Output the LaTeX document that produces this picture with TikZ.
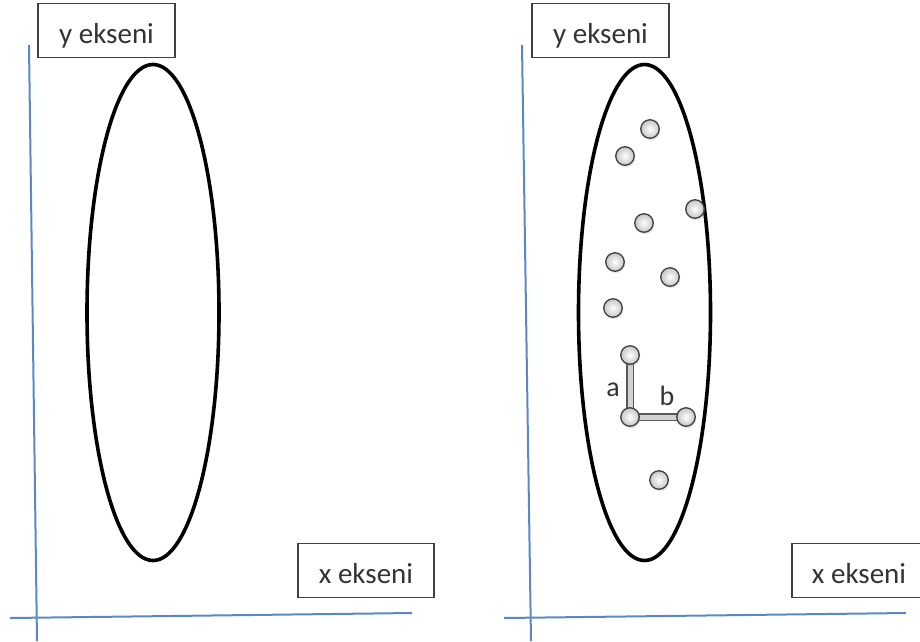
\documentclass[tikz,border=0pt]{standalone}
\usepackage{fontspec}
\setmainfont{Carlito}
\usetikzlibrary{shadows}
\begin{document}
\begin{tikzpicture}[x = 1pt, y = -1pt,
		axis/.style = {line width = 2pt, draw = {rgb,255:red,91;green,135;blue,197}},
		label box/.style = {draw = black!75, line width = 1.4pt, fill = white, text = black!80,
			font = \fontsize{29}{32}\selectfont, inner sep = 0pt, minimum height = 54pt,
			text height = 27pt, text depth = 2pt},
		oval/.style = {line width = 3.6pt},
		dot/.style = {circle, draw = black!75, line width = 1.3pt, minimum size = 18.5pt, inner sep = 0pt,
			inner color = white, outer color = gray!45,
			drop shadow = {opacity = 0.2, shadow xshift = 1pt, shadow yshift = -2pt}},
		bar/.style = {draw = black!65, line width = 1.2pt, double = gray!35, double distance = 5pt},
		side/.style = {text = black!80, font = \fontsize{28}{30}\selectfont}]
	\useasboundingbox (0, 0) rectangle (920, 641);
	% left: axes
	\draw[axis] (29, 45) -- (37, 641);
	\draw[axis] (10, 618) -- (412, 613);
	\node[label box, minimum width = 137pt] (ly) at (106.5, 30.5) {y ekseni};
	\node[label box, minimum width = 136pt] (lx) at (366, 570.5) {x ekseni};
	% left: the empty set
	\draw[oval] (153, 312.5) ellipse (66 and 248);
	% right: axes
	\draw[axis] (522, 45) -- (531, 641);
	\draw[axis] (504, 618) -- (906, 613);
	\node[label box, minimum width = 137pt] (ry) at (600.5, 30.5) {y ekseni};
	\node[label box, minimum width = 134pt] (rx) at (859, 570.5) {x ekseni};
	% right: the set with its points
	\draw[oval] (644.5, 312.5) ellipse (66 and 248);
	\coordinate (pa) at (630, 355);
	\coordinate (po) at (630, 417);
	\coordinate (pb) at (686, 417);
	\draw[bar] (pa) -- (po) -- (pb);
	\node[dot] (p1)  at (650, 129) {};
	\node[dot] (p2)  at (625, 156) {};
	\node[dot] (p3)  at (695, 209) {};
	\node[dot] (p4)  at (644, 223) {};
	\node[dot] (p5)  at (615, 262) {};
	\node[dot] (p6)  at (670, 277) {};
	\node[dot] (p7)  at (613, 308) {};
	\node[dot] (p8)  at (pa) {};
	\node[dot] (p9)  at (po) {};
	\node[dot] (p10) at (pb) {};
	\node[dot] (p11) at (659, 480) {};
	% the two distances
	\node[side] (a) at (613, 390) {a};
	\node[side] (b) at (667, 396) {b};
\end{tikzpicture}
\end{document}
